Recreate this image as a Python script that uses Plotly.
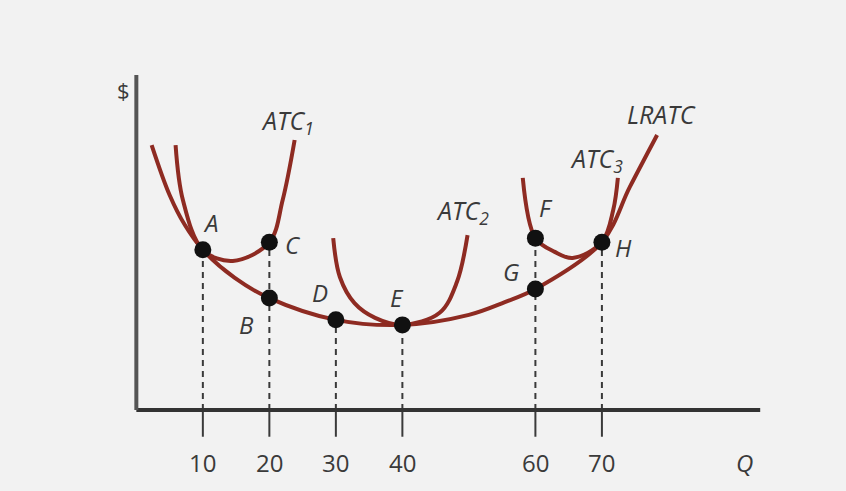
import plotly.graph_objects as go

# ---- data (x = quantity Q, y = $ in arbitrary units) ----
lratc_x = [2.3, 5.0, 7.3, 10, 14.8, 20, 30, 40, 50, 55.4, 60, 70, 74.2, 78.3]
lratc_y = [79.1, 64.2, 55.2, 47.8, 39.4, 33.4, 26.9, 25.4, 28.4, 32.2, 36.1, 50.1, 66.6, 82.1]

atc1_x = [5.9, 7.0, 10, 14.5, 20, 22.0, 23.8]
atc1_y = [79.1, 62.7, 47.8, 44.5, 50.1, 62.7, 80.6]

atc2_x = [29.6, 30.6, 32.8, 35.9, 40, 45.6, 48.2, 49.8]
atc2_y = [51.3, 39.7, 31.9, 27.5, 25.4, 29.0, 38.2, 52.2]

atc3_x = [58.1, 60, 62.9, 65.6, 70, 71.7, 72.4]
atc3_y = [69.3, 51.3, 47.2, 45.4, 50.1, 59.7, 69.3]

point_names = ["A", "B", "C", "D", "E", "F", "G", "H"]
point_x = [10, 20, 20, 30, 40, 60, 60, 70]
point_y = [47.8, 33.4, 50.1, 26.9, 25.4, 51.3, 36.1, 50.1]
label_x = [11.2, 16.6, 23.5, 27.6, 39.2, 61.6, 56.3, 73.3]
label_y = [56.0, 25.4, 49.3, 35.2, 33.7, 60.3, 41.2, 48.4]

tick_vals = [10, 20, 30, 40, 60, 70]
tick_labels = ["10", "20", "30", "40", "60", "70"]
tick_top = [50.1, 50.1, 26.9, 25.4, 51.3, 50.1]

curve_names = ["ATC<sub>1</sub>", "ATC<sub>2</sub>", "ATC<sub>3</sub>", "LRATC"]
curve_label_x = [22.8, 49.0, 69.2, 79.0]
curve_label_y = [86.0, 59.4, 74.9, 88.4]

# ---- styling ----
CURVE = "#8e2b22"
INK = "#3a3a3a"
FONT = "Open Sans"

fig = go.Figure()

# dashed drop lines
for tx, ty in zip(tick_vals, tick_top):
    fig.add_shape(type="line", x0=tx, x1=tx, y0=0, y1=ty,
                  line=dict(color=INK, width=2, dash="6px,5px"), layer="below")
    fig.add_shape(type="line", x0=tx, x1=tx, y0=-8, y1=0,
                  line=dict(color=INK, width=2), layer="below")

# axes
fig.add_shape(type="line", x0=0, x1=93.8, y0=0, y1=0, line=dict(color="#333", width=4))
fig.add_shape(type="line", x0=0, x1=0, y0=0, y1=100, line=dict(color="#555", width=4))

for cx, cy in [(lratc_x, lratc_y), (atc1_x, atc1_y), (atc2_x, atc2_y), (atc3_x, atc3_y)]:
    fig.add_trace(go.Scatter(x=cx, y=cy, mode="lines",
                             line=dict(color=CURVE, width=4, shape="spline", smoothing=1.0),
                             hoverinfo="skip", showlegend=False))

fig.add_trace(go.Scatter(x=point_x, y=point_y, mode="markers",
                         marker=dict(color="#111", size=17), showlegend=False))

for nm, lx, ly in zip(point_names, label_x, label_y):
    fig.add_annotation(x=lx, y=ly, text=f"<i>{nm}</i>", showarrow=False,
                       font=dict(family=FONT, size=24, color=INK))

for nm, lx, ly in zip(curve_names, curve_label_x, curve_label_y):
    fig.add_annotation(x=lx, y=ly, text=f"<i>{nm}</i>", showarrow=False,
                       font=dict(family=FONT, size=25, color=INK))

for tv, tl in zip(tick_vals, tick_labels):
    fig.add_annotation(x=tv, y=-15.8, text=tl, showarrow=False,
                       font=dict(family=FONT, size=24, color=INK))

fig.add_annotation(x=91.5, y=-15.8, text="<i>Q</i>", showarrow=False,
                   font=dict(family=FONT, size=24, color=INK))
fig.add_annotation(x=-1.9, y=95.5, text="$", showarrow=False,
                   font=dict(family=FONT, size=22, color=INK))

fig.update_layout(
    width=846, height=491,
    margin=dict(l=0, r=0, t=0, b=0),
    paper_bgcolor="#f2f2f2", plot_bgcolor="#f2f2f2",
    xaxis=dict(range=[-20.5, 106.7], visible=False, fixedrange=True),
    yaxis=dict(range=[-24.2, 122.4], visible=False, fixedrange=True),
    showlegend=False,
)

fig.write_html("out.html", config={"displayModeBar": False},
               post_script="document.body.style.margin='0';document.body.style.overflow='hidden';document.body.style.background='#f2f2f2';")
